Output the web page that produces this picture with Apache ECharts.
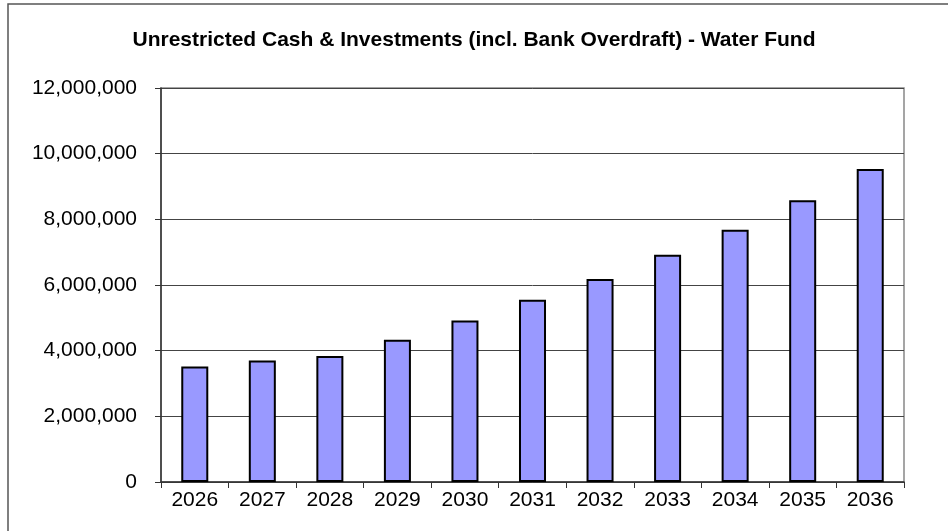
<!DOCTYPE html>
<html>
<head>
<meta charset="utf-8">
<script src="https://cdn.jsdelivr.net/npm/echarts@6/dist/echarts.min.js"></script>
<style>
html,body{margin:0;padding:0;background:#fff;}
#chart{width:948px;height:531px;}
</style>
</head>
<body>
<div id="chart"></div>
<script>
const categories = ['2026','2027','2028','2029','2030','2031','2032','2033','2034','2035','2036'];
const values = [3520000, 3700000, 3840000, 4330000, 4920000, 5550000, 6180000, 6920000, 7680000, 8580000, 9530000];
const titleText = 'Unrestricted Cash & Investments (incl. Bank Overdraft) - Water Fund';

const chart = echarts.init(document.getElementById('chart'), null, {renderer: 'canvas'});
chart.setOption({
  animation: false,
  backgroundColor: '#fff',
  title: {
    text: titleText,
    left: 'center',
    top: 25,
    textStyle: {fontFamily: 'Liberation Sans, Arial, sans-serif', fontWeight: 'bold', fontSize: 21, color: '#000'}
  },
  graphic: [{
    type: 'rect',
    shape: {x: 8, y: 4, width: 960, height: 560},
    style: {fill: 'none', stroke: '#555', lineWidth: 1.5},
    silent: true
  }, {
    type: 'rect',
    shape: {x: 161, y: 88, width: 743, height: 394},
    style: {fill: 'none', stroke: '#888', lineWidth: 1.5},
    silent: true, z: 0
  }],
  grid: {left: 161, right: 44, top: 88, bottom: 49, containLabel: false},
  xAxis: {
    type: 'category',
    data: categories,
    axisLine: {show: true, lineStyle: {color: '#333', width: 1.5}},
    axisTick: {show: true, length: 6, lineStyle: {color: '#333'}},
    axisLabel: {fontFamily: 'Liberation Sans, Arial, sans-serif', fontSize: 21, color: '#000', margin: 8}
  },
  yAxis: {
    type: 'value',
    min: 0, max: 12000000, interval: 2000000,
    axisLine: {show: true, lineStyle: {color: '#333', width: 1.5}},
    axisTick: {show: true, length: 6, lineStyle: {color: '#333'}},
    splitLine: {show: true, lineStyle: {color: '#444', width: 1}},
    axisLabel: {
      fontFamily: 'Liberation Sans, Arial, sans-serif', fontSize: 21, color: '#000', margin: 24,
      formatter: v => v.toLocaleString('en-US')
    }
  },
  series: [{
    type: 'bar',
    data: values,
    barWidth: '40%',
    itemStyle: {color: '#9999FF', borderColor: '#000', borderWidth: 2}
  }]
});
</script>
</body>
</html>
